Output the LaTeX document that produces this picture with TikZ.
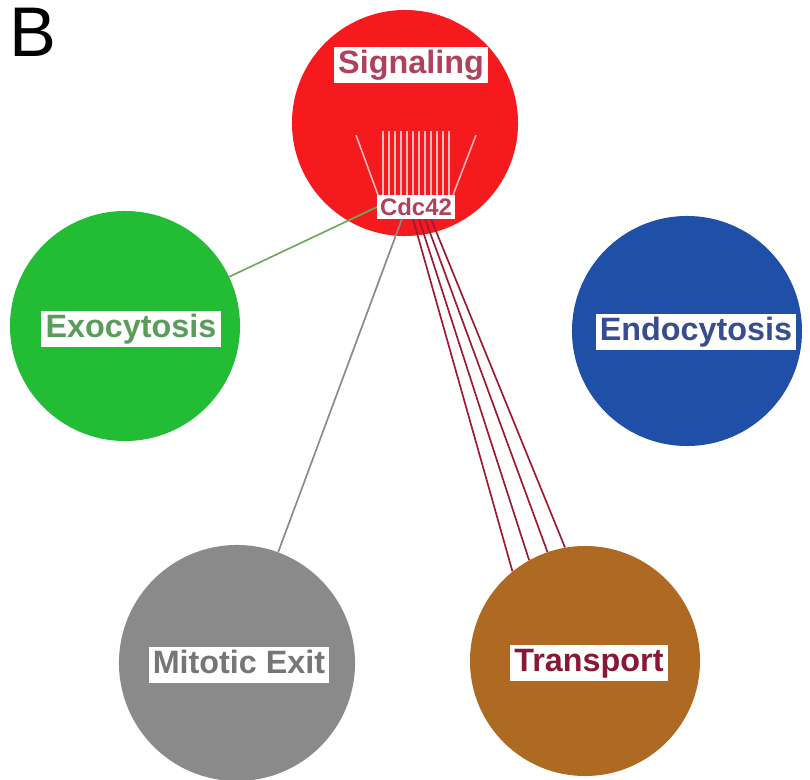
\documentclass[tikz,border=0pt]{standalone}
\usepackage{fontspec}
\setmainfont{Liberation Sans}
\usepackage{tikz}
\usetikzlibrary{positioning, calc}
\definecolor{sigcolor}{HTML}{F41A1E}
\definecolor{exocolor}{HTML}{22BD35}
\definecolor{endocolor}{HTML}{1F4FA6}
\definecolor{mitcolor}{HTML}{8A8A8A}
\definecolor{trncolor}{HTML}{AE6A22}
\definecolor{sigtext}{HTML}{B0405C}
\definecolor{exotext}{HTML}{5A9C5C}
\definecolor{endotext}{HTML}{384C8E}
\definecolor{mittext}{HTML}{767676}
\definecolor{trntext}{HTML}{8A1736}
\definecolor{exoedge}{HTML}{6FAA5C}
\definecolor{trnedge}{HTML}{9E1A34}

\begin{document}
\begin{tikzpicture}[
    x=0.025cm, y=-0.025cm,
    cluster/.style={circle, fill=#1, draw=none, inner sep=0pt},
    tag/.style={fill=white, text=#1, inner xsep=3pt, inner ysep=2pt, font=\fontsize{23}{26}\selectfont\bfseries, text height=17pt, text depth=4.5pt},
    gene/.style={fill=white, text=sigtext, inner xsep=2pt, inner ysep=1.5pt, font=\fontsize{17}{19}\selectfont\bfseries, text height=12.5pt, text depth=1pt},
    bar/.style={draw=white!70!sigcolor, line width=1.1pt},
    link/.style={line width=1.2pt, #1},
  ]
  \useasboundingbox (0,0) rectangle (810,780);

  % clusters
  \node[cluster=sigcolor, minimum size=5.65cm] (sig) at (405,123) {};
  \node[cluster=exocolor, minimum size=5.75cm] (exo) at (125,326) {};
  \node[cluster=endocolor, minimum size=5.75cm] (endo) at (687,331) {};
  \node[cluster=mitcolor, minimum size=5.9cm] (mit) at (237,663) {};
  \node[cluster=trncolor, minimum size=5.75cm] (trn) at (585,661) {};

  \node[font=\fontsize{50}{54}\selectfont, inner sep=0pt] (panel) at (33,32) {B};

  % Cdc42 and its links inside Signaling
  \node[gene] (cdc) at (416,207) {Cdc42};
  \foreach \x in {-33,-27,...,33}
    \draw[bar] ($(cdc.north)+(\x,0)$) -- ++(0,-64);
  \draw[bar] ($(cdc.north west)+(1,0)$) -- ++(-22,-60);
  \draw[bar] ($(cdc.north east)+(-2,0)$) -- ++(23,-60);

  % links to other clusters
  \draw[link=exoedge] (cdc.west) -- (exo);
  \draw[link=mitcolor] ($(cdc.south)+(-14,0)$) -- (mit);
  \draw[link=trnedge] ($(cdc.south)+(-3,0)$) -- (trn.129);
  \draw[link=trnedge] ($(cdc.south)+(3,0)$) -- (trn.119);
  \draw[link=trnedge] ($(cdc.south)+(9,0)$) -- (trn.109);
  \draw[link=trnedge] ($(cdc.south)+(15,0)$) -- (trn.100);
  \node[gene] at (cdc) {Cdc42};

  % cluster labels
  \node[tag=sigtext] (siglab) at (411,65) {Signaling};
  \node[tag=exotext] (exolab) at (131,329) {Exocytosis};
  \node[tag=endotext] (endolab) at (696,332) {Endocytosis};
  \node[tag=mittext] (mitlab) at (239,665) {Mitotic Exit};
  \node[tag=trntext] (trnlab) at (589,663) {Transport};
\end{tikzpicture}
\end{document}
